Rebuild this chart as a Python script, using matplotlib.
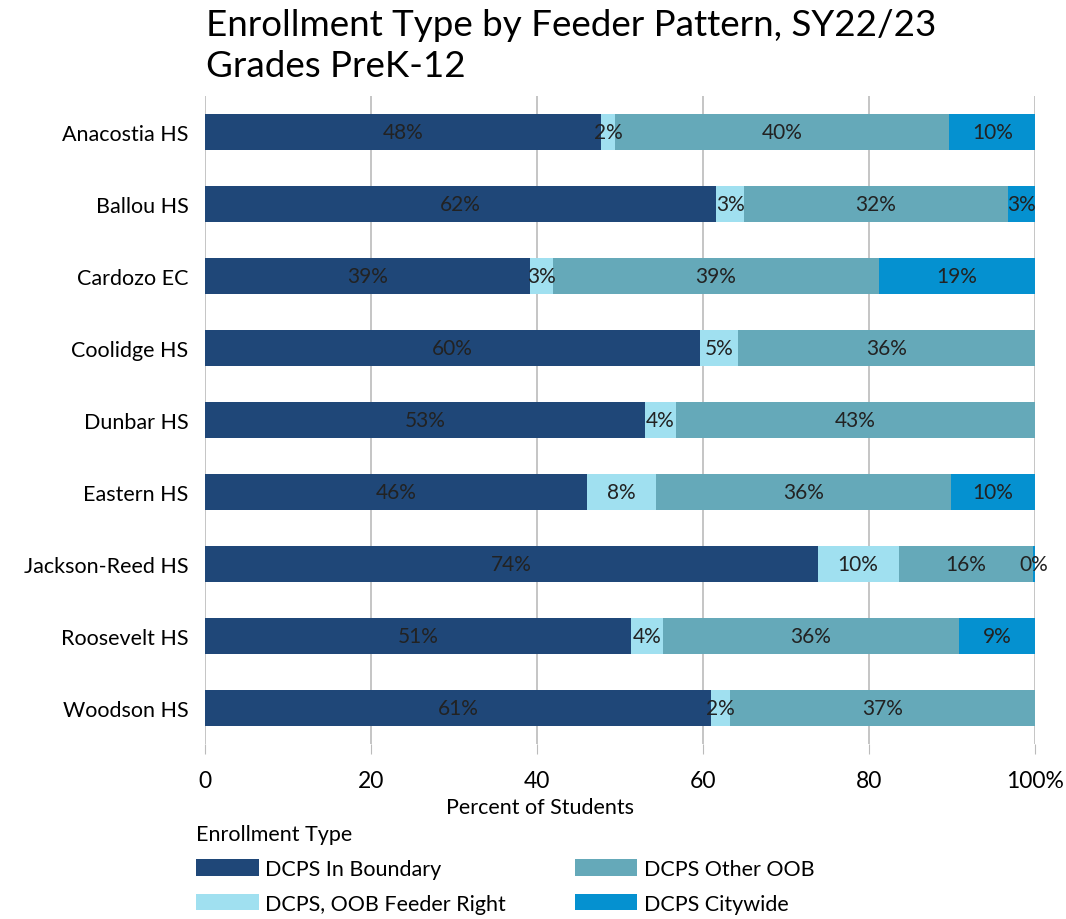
import matplotlib.pyplot as plt
import numpy as np

plt.rcParams['font.family'] = ['Lato', 'DejaVu Sans']

schools = ['Anacostia HS', 'Ballou HS', 'Cardozo EC', 'Coolidge HS', 'Dunbar HS',
           'Eastern HS', 'Jackson-Reed HS', 'Roosevelt HS', 'Woodson HS']
in_boundary = [47.7, 61.6, 39.2, 59.6, 53.0, 46.0, 73.8, 51.3, 61.0]
feeder_right = [1.7, 3.4, 2.7, 4.6, 3.8, 8.3, 9.8, 3.9, 2.2]
other_oob = [40.3, 31.7, 39.3, 35.8, 43.2, 35.6, 16.2, 35.6, 36.8]
citywide = [10.3, 3.3, 18.8, 0.0, 0.0, 10.1, 0.2, 9.2, 0.0]

series = [('DCPS In Boundary', in_boundary, '#1F4778'),
          ('DCPS, OOB Feeder Right', feeder_right, '#A0E0F0'),
          ('DCPS Other OOB', other_oob, '#65A9B9'),
          ('DCPS Citywide', citywide, '#0591D0')]

fig = plt.figure(figsize=(10.66, 9.2), dpi=100)
ax = fig.add_axes([0.1923, 0.1902, 0.7786, 0.7044])

y = np.arange(len(schools))
left = np.zeros(len(schools))
handles = []
for name, vals, color in series:
    vals = np.array(vals)
    bars = ax.barh(y, vals, left=left, height=0.5, color=color, label=name, zorder=2)
    handles.append(bars)
    for yi, l, v in zip(y, left, vals):
        if v > 0:
            ax.text(l + v / 2, yi, f'{round(v):.0f}%', ha='center', va='center',
                    fontsize=15, color='#222222', zorder=3)
    left += vals

ax.set_xlim(0, 100)
ax.set_ylim(8.5, -0.5)
ax.set_yticks(y)
ax.set_yticklabels(schools, fontsize=15.5)
ax.set_xticks([0, 20, 40, 60, 80, 100])
ax.set_xticklabels(['0', '20', '40', '60', '80', '100%'], fontsize=16.5)
ax.tick_params(axis='y', length=0, pad=12)
ax.tick_params(axis='x', length=7, color='#BBBBBB', pad=12)
for s in ax.spines.values():
    s.set_visible(False)
ax.grid(axis='x', color='#BBBBBB', linewidth=1.2, zorder=0)
ax.set_axisbelow(True)
ax.set_xlabel('Percent of Students', fontsize=15.5, labelpad=6)
ax.xaxis.set_label_coords(0.404, -0.082)

fig.text(0.193, 0.99, 'Enrollment Type by Feeder Pattern, SY22/23\nGrades PreK-12',
         fontsize=26.5, va='top', ha='left', linespacing=1.3)

leg = fig.legend(handles=handles, loc='upper left', bbox_to_anchor=(0.166, 0.124),
                 ncol=2, frameon=False, fontsize=15.5, title='Enrollment Type',
                 title_fontsize=15.5, handlelength=2.9, handleheight=0.8,
                 columnspacing=3.2, labelspacing=0.68, handletextpad=0.3)
leg._legend_box.align = 'left'

fig.savefig('out.png', dpi=100)
